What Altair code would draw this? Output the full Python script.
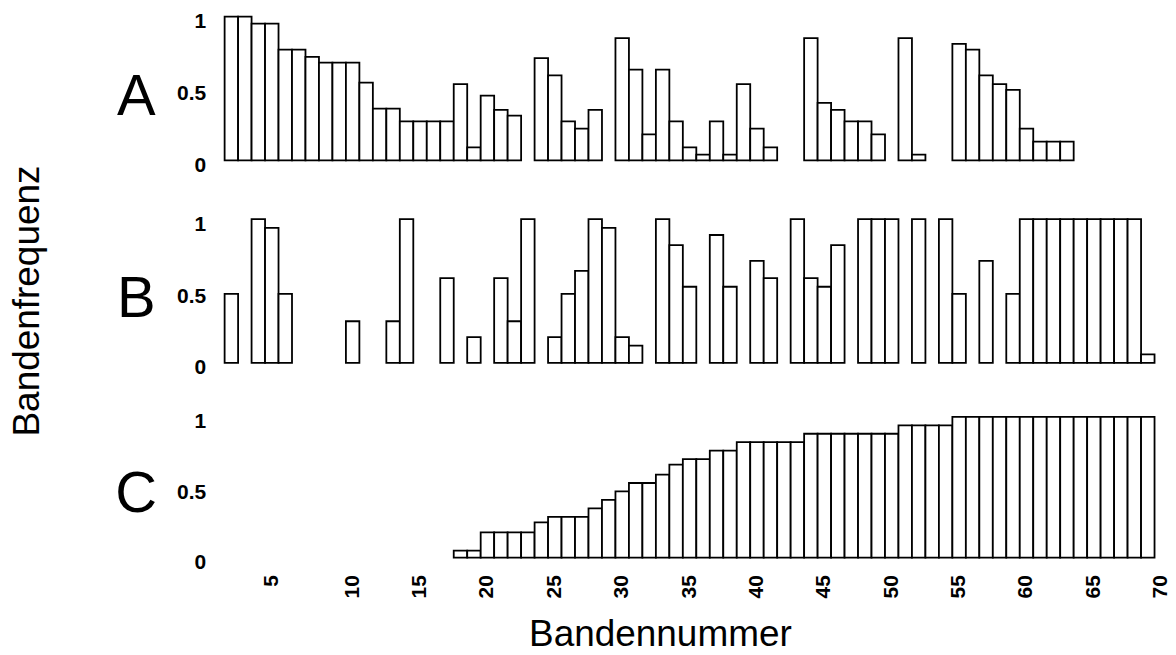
import altair as alt
import pandas as pd

FONT = "Liberation Sans"

bands = list(range(1, 71))

freq_a = [1.0, 1.0, 0.95, 0.95, 0.77, 0.77, 0.72, 0.68, 0.68, 0.68,
          0.54, 0.36, 0.36, 0.27, 0.27, 0.27, 0.27, 0.53, 0.09, 0.45,
          0.35, 0.31, None, 0.71, 0.59, 0.27, 0.22, 0.35, None, 0.85,
          0.63, 0.18, 0.63, 0.27, 0.09, 0.04, 0.27, 0.04, 0.53, 0.22,
          0.09, None, None, 0.85, 0.40, 0.35, 0.27, 0.27, 0.18, None,
          0.85, 0.04, None, None, 0.81, 0.77, 0.59, 0.53, 0.49, 0.22,
          0.13, 0.13, 0.13, None, None, None, None, None, None, None]

freq_b = [0.48, None, 1.0, 0.94, 0.48, None, None, None, None, 0.29,
          None, None, 0.29, 1.0, None, None, 0.59, None, 0.18, None,
          0.59, 0.29, 1.0, None, 0.18, 0.48, 0.64, 1.0, 0.94, 0.18,
          0.12, None, 1.0, 0.82, 0.53, None, 0.89, 0.53, None, 0.71,
          0.59, None, 1.0, 0.59, 0.53, 0.82, None, 1.0, 1.0, 1.0,
          None, 1.0, None, 1.0, 0.48, None, 0.71, None, 0.48, 1.0,
          1.0, 1.0, 1.0, 1.0, 1.0, 1.0, 1.0, 1.0, 0.06, None]

freq_c = [None, None, None, None, None, None, None, None, None, None,
          None, None, None, None, None, None, None, 0.05, 0.05, 0.18,
          0.18, 0.18, 0.18, 0.25, 0.29, 0.29, 0.29, 0.35, 0.41, 0.47,
          0.53, 0.53, 0.59, 0.66, 0.70, 0.70, 0.76, 0.76, 0.82, 0.82,
          0.82, 0.82, 0.82, 0.88, 0.88, 0.88, 0.88, 0.88, 0.88, 0.88,
          0.94, 0.94, 0.94, 0.94, 1.0, 1.0, 1.0, 1.0, 1.0, 1.0,
          1.0, 1.0, 1.0, 1.0, 1.0, 1.0, 1.0, 1.0, 1.0, None]

x_tick_values = [4, 10, 15, 20, 25, 30, 35, 40, 45, 50, 55, 60, 65, 70]
x_tick_labels = ["5", "10", "15", "20", "25", "30", "35", "40", "45",
                 "50", "55", "60", "65", "70"]
y_tick_values = [0, 0.5, 1]
panel_letters = ["A", "B", "C"]
y_title = "Bandenfrequenz"
x_title = "Bandennummer"


def make_df(vals):
    df = pd.DataFrame({"band": bands, "freq": vals})
    return df.dropna()


label_expr = (
    "[" + ",".join("'" + s + "'" for s in x_tick_labels) + "]"
    + "[indexof([" + ",".join(str(v) for v in x_tick_values) + "], datum.value)]"
)

x_scale = alt.Scale(domain=bands, paddingInner=0, paddingOuter=0)
PLOT_W = 945
UNIT = 144  # pixels per frequency unit in panels A and B


def y_axis(letter, letter_y):
    return alt.Axis(
        values=y_tick_values, format="~g", title=letter, titleAngle=0,
        titleFont=FONT, titleFontSize=58, titleFontWeight="normal",
        titleX=-89, titleY=letter_y, titleAlign="center",
        titleBaseline="alphabetic", titleColor="black",
        labelFont=FONT, labelFontSize=21, labelFontWeight="bold",
        labelColor="black", labelPadding=19, labelOffset=5,
        ticks=False, domain=False, grid=False,
    )


x_axis_c = alt.Axis(
    values=x_tick_values, labelExpr=label_expr, labelAngle=270,
    labelFont=FONT, labelFontSize=21, labelFontWeight="bold",
    labelColor="black", labelPadding=17, ticks=False, domain=False,
    grid=False, title=x_title, titleFont=FONT, titleFontSize=37,
    titleFontWeight="normal", titleColor="black", titleX=436,
    titleY=88, titleAlign="center", titleBaseline="alphabetic",
)


def bars(vals, letter, letter_y, height, ymax, x_axis):
    return alt.Chart(make_df(vals)).mark_bar(
        fill="white", stroke="black", strokeWidth=1.8
    ).encode(
        x=alt.X("band:O", scale=x_scale, axis=x_axis),
        y=alt.Y("freq:Q", scale=alt.Scale(domain=[0, ymax], nice=False),
                axis=y_axis(letter, letter_y)),
    ).properties(width=PLOT_W, height=height)


panel_a = bars(freq_a, panel_letters[0], 98, UNIT, 1, None)

B_H = UNIT + 5
b_bars = bars(freq_b, panel_letters[1], 102, B_H, B_H / UNIT, None)
b_title = alt.Chart(pd.DataFrame({"t": [y_title]})).mark_text(
    angle=270, font=FONT, fontSize=37, color="black",
    align="center", baseline="middle",
).encode(text="t:N", x=alt.value(-197), y=alt.value(87))
panel_b = alt.layer(b_bars, b_title).properties(width=PLOT_W, height=B_H)

panel_c = bars(freq_c, panel_letters[2], 95, 141, 1, x_axis_c)

chart = alt.vconcat(
    panel_a, panel_b, panel_c, spacing=54, bounds="flush"
).properties(
    padding={"left": 9, "top": 10, "right": 5, "bottom": 5},
    background="white",
).configure_view(stroke="transparent", strokeWidth=0)

chart.save("out.html", embed_options={"renderer": "svg", "actions": False})
